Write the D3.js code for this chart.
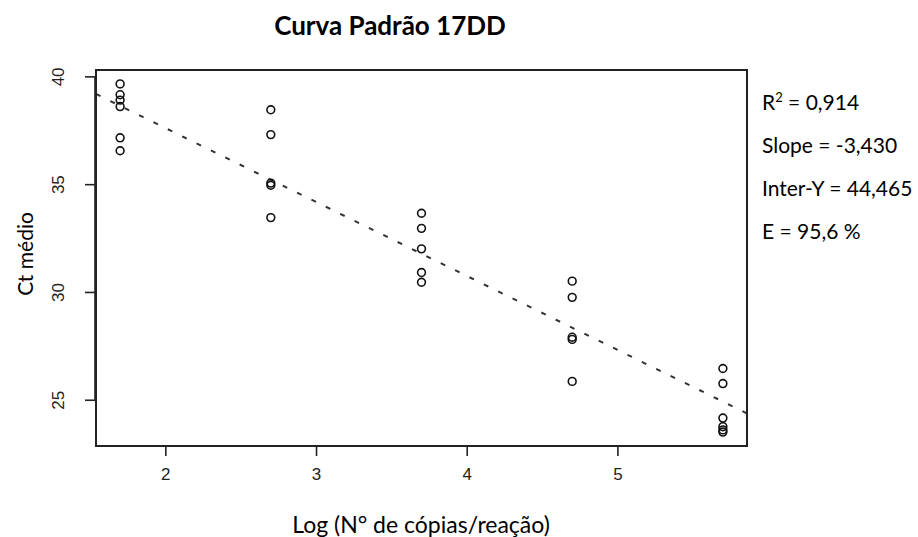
<!DOCTYPE html>
<meta charset="utf-8">
<body style="margin:0;background:#fff">
<div id="chart"></div>
<script src="https://cdnjs.cloudflare.com/ajax/libs/d3/7.8.5/d3.min.js"></script>
<script>

  // log copies per reaction and the Ct values read at each dilution
  var logCopies = [1.7, 2.7, 3.7, 4.7, 5.7]
  var ctValues = [
    [39.65, 39.15, 38.9, 38.6, 37.15, 36.55],
    [38.45, 37.3, 35.05, 34.95, 33.45],
    [33.65, 32.95, 32.0, 30.9, 30.45],
    [30.5, 29.75, 27.9, 27.8, 25.85],
    [26.45, 25.75, 24.15, 23.75, 23.6, 23.5]
  ]
  var xTicks = [2, 3, 4, 5]
  var yTicks = [25, 30, 35, 40]

  // fit reported on the chart
  var slope = -3.430, intercept = 44.465
  var statLines = [
    {label: 'R', sup: '2', rest: ' = 0,914'},
    {label: 'Slope = -3,430'},
    {label: 'Inter-Y = 44,465'},
    {label: 'E = 95,6 %'}
  ]

  var width = 918, height = 537
  var box = {left: 96, right: 747, top: 70, bottom: 446}

  var points = []
  logCopies.forEach(function (x, i) {
    ctValues[i].forEach(function (y) { points.push({x: x, y: y}) })
  })

  // R style 4% padding around the data range
  function padded(ext) {
    var d = (ext[1] - ext[0]) * 0.04
    return [ext[0] - d, ext[1] + d]
  }

  var x = d3.scaleLinear()
    .domain(padded(d3.extent(points, d => d.x)))
    .range([box.left, box.right])
  var y = d3.scaleLinear()
    .domain(padded(d3.extent(points, d => d.y)))
    .range([box.bottom, box.top])

  var svg = d3.select('#chart').append('svg')
    .attr('width', width)
    .attr('height', height)

  svg.append('text')
    .text('Curva Padrão 17DD')
    .attr('x', 390)
    .attr('y', 35)
    .attr('text-anchor', 'middle')
    .style('font-family', 'Lato, sans-serif')
    .style('font-weight', 'bold')
    .style('font-size', '26px')

  // regression line, clipped to the plot box
  svg.append('clipPath').attr('id', 'clip')
    .append('rect')
    .attr('x', box.left).attr('y', box.top)
    .attr('width', box.right - box.left + 8)
    .attr('height', box.bottom - box.top)

  var xd = x.domain()
  svg.append('line')
    .attr('clip-path', 'url(#clip)')
    .attr('x1', x(xd[0])).attr('y1', y(intercept + slope * xd[0]))
    .attr('x2', x(xd[1] + 0.06)).attr('y2', y(intercept + slope * (xd[1] + 0.06)))
    .attr('stroke', '#333')
    .attr('stroke-width', 2)
    .attr('stroke-dasharray', '5,11')

  svg.append('g')
    .selectAll('circle')
    .data(points)
    .join('circle')
    .attr('cx', d => x(d.x))
    .attr('cy', d => y(d.y))
    .attr('r', 3.9)
    .attr('fill', 'none')
    .attr('stroke', '#111')
    .attr('stroke-width', 1.6)

  svg.append('rect')
    .attr('x', box.left).attr('y', box.top)
    .attr('width', box.right - box.left)
    .attr('height', box.bottom - box.top)
    .attr('fill', 'none')
    .attr('stroke', '#222')
    .attr('stroke-width', 2)

  // axes
  var xAxis = svg.append('g')
    .attr('transform', 'translate(0,' + box.bottom + ')')
    .call(d3.axisBottom(x).tickValues(xTicks).tickSize(10).tickPadding(12).tickFormat(d3.format('d')))
  xAxis.attr('font-size', null).attr('font-family', null)
  xAxis.select('.domain').remove()
  xAxis.selectAll('line').attr('stroke', '#222').attr('stroke-width', 1.6)
  xAxis.selectAll('text').attr('fill', '#222')
    .style('font-family', 'Liberation Sans, Arial, sans-serif')
    .style('font-size', '17px')

  var yAxis = svg.append('g')
    .attr('transform', 'translate(' + (box.left - 1) + ',0)')
    .call(d3.axisLeft(y).tickValues(yTicks).tickSize(10).tickFormat(d3.format('d')))
  yAxis.attr('font-size', null).attr('font-family', null)
  yAxis.select('.domain')
    .attr('d', 'M0,' + y(25) + 'V' + y(40))
    .attr('stroke', '#222').attr('stroke-width', 1.6)
  yAxis.selectAll('line').attr('stroke', '#222').attr('stroke-width', 1.6)
  yAxis.selectAll('text')
    .attr('x', null).attr('dy', null)
    .attr('text-anchor', 'middle')
    .attr('transform', 'translate(-31,0) rotate(-90)')
    .attr('fill', '#222')
    .style('font-family', 'Liberation Sans, Arial, sans-serif')
    .style('font-size', '17px')

  svg.append('text')
    .text('Log (N° de cópias/reação)')
    .attr('x', 421)
    .attr('y', 533)
    .attr('text-anchor', 'middle')
    .style('font-family', 'Lato, sans-serif')
    .style('font-size', '23px')

  svg.append('text')
    .text('Ct médio')
    .attr('transform', 'translate(33,254) rotate(-90)')
    .attr('text-anchor', 'middle')
    .style('font-family', 'Lato, sans-serif')
    .style('font-size', '21px')

  var stats = svg.append('g')
    .selectAll('text')
    .data(statLines)
    .join('text')
    .attr('x', 762)
    .attr('y', (d, i) => 110 + i * 43)
    .style('font-family', 'Lato, sans-serif')
    .style('font-size', '21px')
  stats.append('tspan').text(d => d.label)
  stats.filter(d => d.sup).append('tspan')
    .text(d => d.sup).attr('dy', -8).style('font-size', '13px')
  stats.filter(d => d.rest).append('tspan')
    .text(d => d.rest).attr('dy', 8)

</script>
